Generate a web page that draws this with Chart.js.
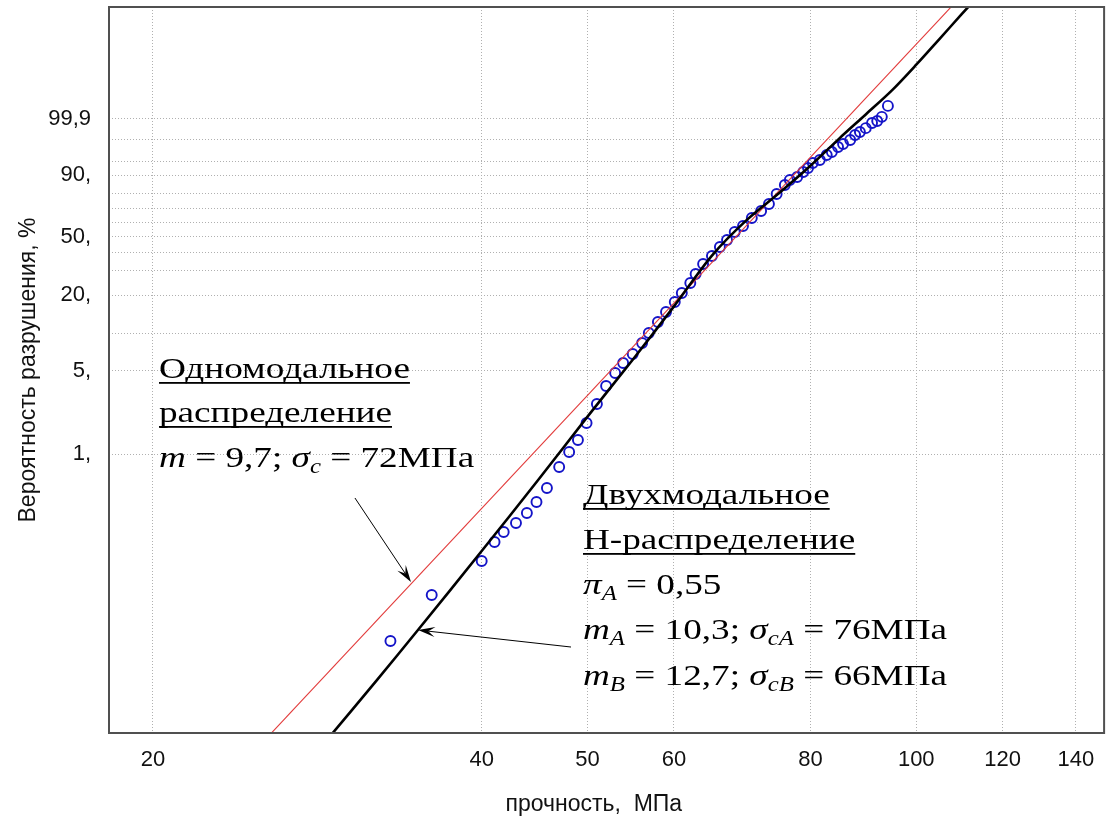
<!DOCTYPE html>
<html lang="ru">
<head>
<meta charset="utf-8">
<title>Вероятность разрушения</title>
<script src="https://cdn.jsdelivr.net/npm/chart.js@4.4.1/dist/chart.umd.min.js"></script>
<style>
  html, body { margin: 0; padding: 0; background: #ffffff; overflow: hidden; }
  #wrap { position: relative; width: 1111px; height: 817px; }
</style>
</head>
<body>
<div id="wrap"><canvas id="chart"></canvas></div>
<script>
// Measured specimens: strength (MPa) and failure probability (%)
const strength = [
  33.0, 36.0, 40.0, 41.1, 41.9, 43.0, 44.0, 44.9, 45.9, 47.1,
  48.1, 49.0, 49.9, 51.0, 52.0, 53.0, 53.9, 55.0, 56.1, 56.9,
  58.0, 59.0, 60.1, 61.0, 62.1, 62.8, 63.8, 65.0, 66.1, 67.1,
  68.2, 69.4, 70.7, 72.1, 73.3, 74.5, 75.8, 76.6, 77.8, 78.8,
  79.6, 80.4, 81.6, 82.8, 83.7, 84.8, 85.7, 87.0, 87.9, 88.8,
  89.9, 91.1, 92.1, 93.0, 94.2
];
const failurePct = [
  0.0263, 0.0645, 0.125, 0.181, 0.220, 0.262, 0.318, 0.394, 0.518, 0.778,
  1.041, 1.314, 1.825, 2.633, 3.719, 4.765, 5.761, 6.827, 8.390, 10.10,
  12.36, 14.82, 17.71, 20.72, 24.59, 28.56, 33.55, 37.98, 43.40, 47.93,
  53.36, 57.57, 63.28, 68.29, 73.19, 79.80, 85.14, 87.77, 89.23, 91.42,
  92.97, 94.65, 95.51, 96.73, 97.34, 98.17, 98.56, 98.98, 99.36, 99.53,
  99.69, 99.83, 99.87, 99.925, 99.9865
];

// Fitted curves, given as strength vs. Weibull ordinate ln(-ln(1-F))
const unimodalStrength = [24.5, 111.9];
const unimodalLnLn = [-10.5, 4.5];

const bimodalStrength = [29.0, 32, 35, 40, 45, 50, 55, 60, 65, 70, 75, 80, 85, 90, 95, 100, 105, 110, 115];
const bimodalLnLn = [-10.12, -9.03, -8.02, -6.49, -5.12, -3.87, -2.76, -1.72, -0.73, -0.03,
                     0.50, 1.02, 1.55, 2.03, 2.49, 2.99, 3.49, 3.97, 4.42];

// Axis ticks
const xTickValues = [20, 40, 50, 60, 80, 100, 120, 140];
const yGridPct = [1, 5, 10, 20, 30, 40, 50, 60, 70, 80, 90, 95, 99, 99.9];
const yLabelPct = [1, 5, 20, 50, 90, 99.9];
const yLabelText = ['1,', '5,', '20,', '50,', '90,', '99,9'];

// Weibull probability-paper transform
const lnln = p => Math.log(-Math.log(1 - p / 100));

const points = strength.map((s, i) => ({ x: s, y: lnln(failurePct[i]) }));
const unimodal = unimodalStrength.map((s, i) => ({ x: s, y: unimodalLnLn[i] }));
const bimodal = bimodalStrength.map((s, i) => ({ x: s, y: bimodalLnLn[i] }));

const SANS = '"Liberation Sans", Arial, sans-serif';
const SERIF = '"Liberation Serif", "Times New Roman", serif';
const GRID = { color: '#b0b0b0', lineWidth: 1, drawTicks: false };
const NOTE_SIZE = 30;
const NOTE_STRETCH = 1.24;

// Text with italic symbols and subscripts
function drawRich(ctx, x, y, parts, size) {
  ctx.save();
  ctx.translate(x, y);
  ctx.scale(NOTE_STRETCH, 1);
  let cx = 0;
  for (const p of parts) {
    const fs = p.sub ? Math.round(size * 0.66) : size;
    ctx.font = (p.it ? 'italic ' : '') + fs + 'px ' + SERIF;
    ctx.fillText(p.t, cx, p.sub ? Math.round(size * 0.2) : 0);
    cx += ctx.measureText(p.t).width;
  }
  ctx.restore();
}
function drawUnderlined(ctx, x, y, text, size) {
  ctx.save();
  ctx.translate(x, y);
  ctx.scale(NOTE_STRETCH, 1);
  ctx.font = size + 'px ' + SERIF;
  ctx.fillText(text, 0, 0);
  const w = ctx.measureText(text).width;
  ctx.fillRect(0, 4, w, 1.8);
  ctx.restore();
}
function drawArrow(ctx, x0, y0, x1, y1) {
  const a = Math.atan2(y1 - y0, x1 - x0);
  const len = 17, half = 5;
  const c = Math.cos(a), s = Math.sin(a);
  ctx.beginPath();
  ctx.moveTo(x0, y0);
  ctx.lineTo(x1 - c * len * 0.6, y1 - s * len * 0.6);
  ctx.stroke();
  ctx.beginPath();
  ctx.moveTo(x1, y1);
  ctx.lineTo(x1 - c * len + s * half, y1 - s * len - c * half);
  ctx.lineTo(x1 - c * len * 0.6, y1 - s * len * 0.6);
  ctx.lineTo(x1 - c * len - s * half, y1 - s * len + c * half);
  ctx.closePath();
  ctx.fill();
}

// Frame around the plotting area
const framePlugin = {
  id: 'frame',
  afterDatasetsDraw(chart) {
    const { ctx, chartArea: a } = chart;
    ctx.save();
    ctx.strokeStyle = '#505050';
    ctx.lineWidth = 2;
    ctx.strokeRect(a.left, a.top, a.right - a.left, a.bottom - a.top);
    ctx.restore();
  }
};

// Fit descriptions and pointer arrows
const notesPlugin = {
  id: 'notes',
  afterDraw(chart) {
    const { ctx } = chart;
    const xs = chart.scales.x, ys = chart.scales.y;
    const P = (s, w) => [xs.getPixelForValue(s), ys.getPixelForValue(w)];
    ctx.save();
    ctx.fillStyle = '#000';
    ctx.strokeStyle = '#000';
    ctx.textBaseline = 'alphabetic';
    const S = NOTE_SIZE;

    drawUnderlined(ctx, 159, 378, 'Одномодальное', S);
    drawUnderlined(ctx, 159, 422, 'распределение', S);
    drawRich(ctx, 159, 467, [
      { t: 'm', it: true }, { t: ' = 9,7; ' }, { t: 'σ', it: true }, { t: 'c', it: true, sub: true },
      { t: ' = 72МПа' }
    ], S);

    drawUnderlined(ctx, 583, 504, 'Двухмодальное', S);
    drawUnderlined(ctx, 583, 549, 'Н-распределение', S);
    drawRich(ctx, 583, 594, [
      { t: 'π', it: true }, { t: 'A', it: true, sub: true }, { t: ' = 0,55' }
    ], S);
    drawRich(ctx, 583, 639, [
      { t: 'm', it: true }, { t: 'A', it: true, sub: true }, { t: ' = 10,3; ' },
      { t: 'σ', it: true }, { t: 'cA', it: true, sub: true }, { t: ' = 76МПа' }
    ], S);
    drawRich(ctx, 583, 685, [
      { t: 'm', it: true }, { t: 'B', it: true, sub: true }, { t: ' = 12,7; ' },
      { t: 'σ', it: true }, { t: 'cB', it: true, sub: true }, { t: ' = 66МПа' }
    ], S);

    ctx.lineWidth = 1;
    let [ax0, ay0] = P(30.62, -5.456), [ax1, ay1] = P(34.46, -7.094);
    drawArrow(ctx, ax0, ay0, ax1, ay1);
    [ax0, ay0] = P(48.29, -8.361); [ax1, ay1] = P(34.98, -8.030);
    drawArrow(ctx, ax0, ay0, ax1, ay1);
    ctx.restore();
  }
};

new Chart(document.getElementById('chart'), {
  type: 'scatter',
  data: {
    datasets: [
      {
        label: 'Двухмодальное H-распределение',
        type: 'line',
        data: bimodal,
        borderColor: '#000000',
        borderWidth: 2.6,
        pointRadius: 0,
        fill: false,
        tension: 0.3,
        order: 0
      },
      {
        label: 'Одномодальное распределение',
        type: 'line',
        data: unimodal,
        borderColor: '#e23a3a',
        borderWidth: 1.1,
        pointRadius: 0,
        fill: false,
        order: 1
      },
      {
        label: 'Эксперимент',
        data: points,
        pointStyle: 'circle',
        pointRadius: 5,
        borderWidth: 1.9,
        borderColor: '#1414c8',
        backgroundColor: 'rgba(0,0,0,0)',
        order: 2
      }
    ]
  },
  options: {
    responsive: true,
    maintainAspectRatio: false,
    animation: false,
    layout: { padding: { top: 7, right: 2, left: 0, bottom: 0 } },
    plugins: {
      legend: { display: false },
      tooltip: { enabled: false }
    },
    scales: {
      x: {
        type: 'logarithmic',
        min: 18.23,
        max: 148.6,
        afterBuildTicks: s => { s.ticks = xTickValues.map(v => ({ value: v })); },
        afterFit: s => { s.height = 84; s.paddingLeft = 0; s.paddingRight = 0; },
        grid: GRID,
        border: { display: false, dash: [1, 2] },
        ticks: {
          autoSkip: false,
          maxRotation: 0,
          padding: 14,
          color: '#111',
          font: { family: SANS, size: 22 },
          callback: v => String(v)
        },
        title: {
          display: true,
          text: 'прочность,  МПа\u00a0\u00a0\u00a0\u00a0',
          color: '#111',
          font: { family: SANS, size: 23, lineHeight: 1 },
          padding: { top: 0, bottom: 1 }
        }
      },
      y: {
        type: 'linear',
        min: -10.037,
        max: 4.115,
        afterBuildTicks: s => { s.ticks = yGridPct.map(p => ({ value: lnln(p) })); },
        afterFit: s => { s.width = 109; s.paddingTop = 0; s.paddingBottom = 0; },
        grid: GRID,
        border: { display: false, dash: [1, 2] },
        ticks: {
          autoSkip: false,
          padding: 18,
          color: '#111',
          font: { family: SANS, size: 22 },
          callback: (v, i) => {
            const k = yLabelPct.indexOf(yGridPct[i]);
            return k >= 0 ? yLabelText[k] : '';
          }
        },
        title: {
          display: true,
          text: 'Вероятность разрушения, %',
          color: '#111',
          font: { family: SANS, size: 23, lineHeight: 1.2 },
          padding: { top: 15, bottom: 0 }
        }
      }
    }
  },
  plugins: [framePlugin, notesPlugin]
});
</script>
</body>
</html>
